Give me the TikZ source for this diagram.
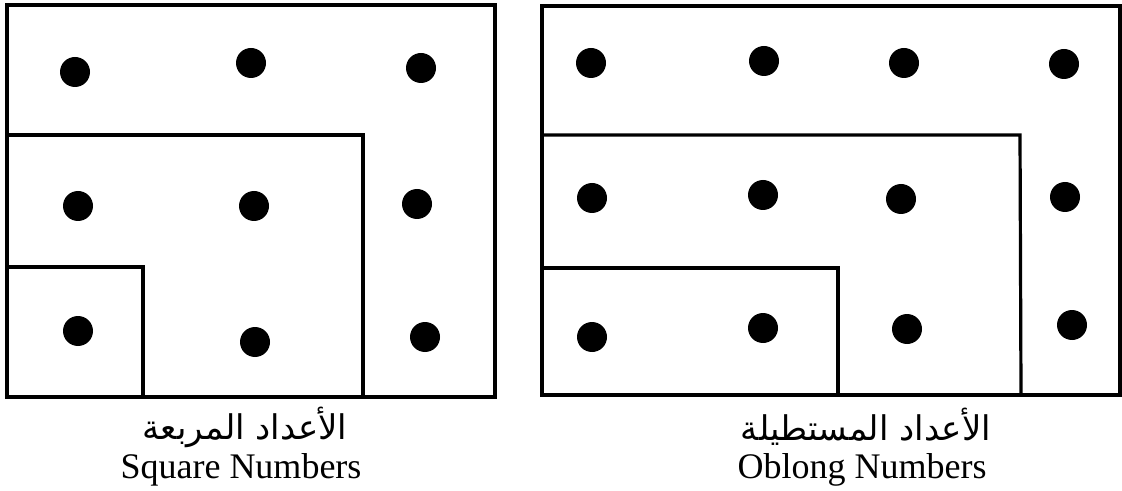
\documentclass[tikz,border=0pt]{standalone}
\usepackage{fontspec}
\setmainfont{Liberation Serif}
\newfontfamily\arabicfont[Script=Arabic]{DejaVu Sans}
\TeXXeTstate=1
\tikzset{
  frame/.style={line width=1.6pt, line join=miter},
  dot/.style={circle, fill=black, inner sep=0pt, minimum size=15pt},
  arlabel/.style={font=\arabicfont\fontsize{17}{20}\selectfont, inner sep=0pt},
  enlabel/.style={font=\fontsize{18}{21}\selectfont, inner sep=0pt, anchor=base},
}
\begin{document}
\begin{tikzpicture}[x=0.5pt, y=-0.5pt]
\useasboundingbox (0,0) rectangle (1122,491);
% ---- left panel: square numbers ----
\draw[frame] (7,5) rectangle (495,397);
\draw[frame] (7,135) -- (363,135) -- (363,397);
\draw[frame] (7,267) -- (143,267) -- (143,397);
\node[dot] (s11) at (75,72) {};
\node[dot] (s12) at (251,63) {};
\node[dot] (s13) at (421,68) {};
\node[dot] (s21) at (78,206) {};
\node[dot] (s22) at (254,206) {};
\node[dot] (s23) at (417,204) {};
\node[dot] (s31) at (78,331) {};
\node[dot] (s32) at (255,342) {};
\node[dot] (s33) at (425,337) {};
\node[arlabel] (sqar) at (245,427) {\beginR الأعداد المربعة\endR};
\node[enlabel] (sqen) at (241,478) {Square Numbers};
% ---- right panel: oblong numbers ----
\draw[frame] (542,6) rectangle (1120,395);
\draw[frame] (542,135) -- (1020,135) -- (1021,395);
\draw[frame] (542,268) -- (838,268) -- (838,396);
\node[dot] (o11) at (591,63) {};
\node[dot] (o12) at (764,61) {};
\node[dot] (o13) at (904,63) {};
\node[dot] (o14) at (1064,64) {};
\node[dot] (o21) at (592,198) {};
\node[dot] (o22) at (763,195) {};
\node[dot] (o23) at (901,199) {};
\node[dot] (o24) at (1065,197) {};
\node[dot] (o31) at (592,337) {};
\node[dot] (o32) at (763,328) {};
\node[dot] (o33) at (907,329) {};
\node[dot] (o34) at (1072,325) {};
\node[arlabel] (obar) at (866,427) {\beginR الأعداد المستطيلة\endR};
\node[enlabel] (oben) at (862,478) {Oblong Numbers};
\end{tikzpicture}
\end{document}
